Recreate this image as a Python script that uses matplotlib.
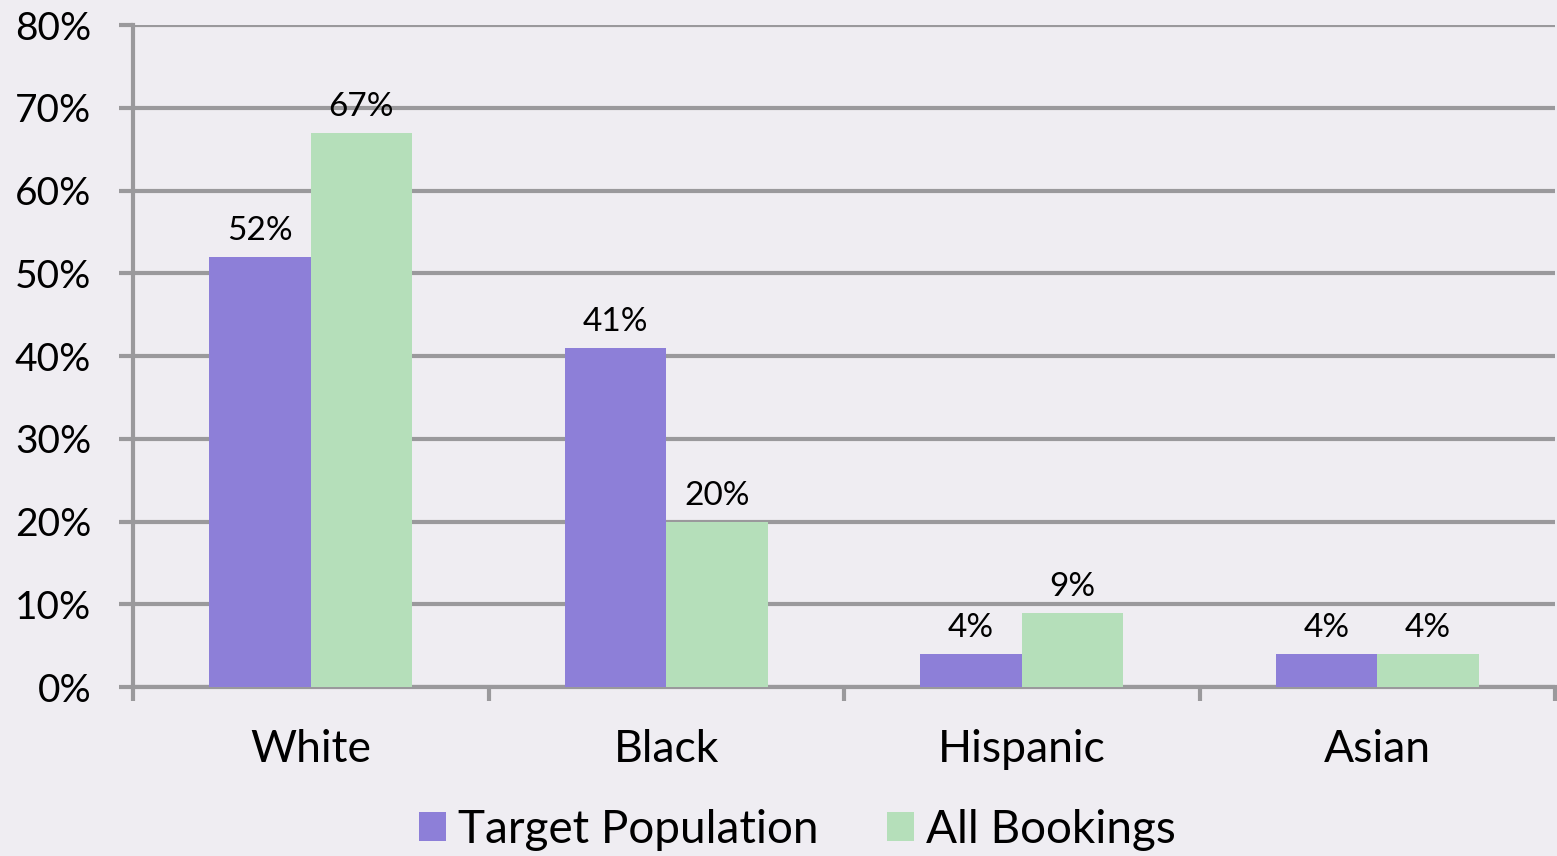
import matplotlib.pyplot as plt
import numpy as np

categories = ['White', 'Black', 'Hispanic', 'Asian']
target_pop = [52, 41, 4, 4]
all_bookings = [67, 20, 9, 4]
series_names = ['Target Population', 'All Bookings']
y_ticks = [0, 10, 20, 30, 40, 50, 60, 70, 80]

plt.rcParams['font.family'] = ['Lato', 'DejaVu Sans']

bg = '#efedf2'
purple = '#8d7fd8'
green = '#b5dfba'
grid_c = '#9a999c'

fig = plt.figure(figsize=(15.57, 8.56), dpi=100, facecolor=bg)
ax = fig.add_axes([133/1557, 169/856, 1422/1557, 662/856])
ax.set_facecolor(bg)

x = np.arange(len(categories))
w = 0.285
b1 = ax.bar(x - w/2, target_pop, w, color=purple, zorder=3, label=series_names[0])
b2 = ax.bar(x + w/2, all_bookings, w, color=green, zorder=3, label=series_names[1])

for bars, vals in [(b1, target_pop), (b2, all_bookings)]:
	for r, v in zip(bars, vals):
		ax.text(r.get_x() + r.get_width()/2, v + 1.3, str(v) + '%', ha='center', va='bottom', fontsize=24, color='black', zorder=4)

ax.set_xlim(-0.5, 3.5)
ax.set_ylim(0, 80)
ax.set_yticks(y_ticks)
ax.set_yticklabels([str(t) + '%' for t in y_ticks], fontsize=28)
ax.yaxis.grid(True, color=grid_c, linewidth=3, zorder=1)
ax.set_xticks(x)
ax.set_xticklabels(categories, fontsize=32)
ax.set_xticks(np.arange(-0.5, 4.0, 1.0), minor=True)
ax.tick_params(axis='x', which='major', length=0, pad=30)
ax.tick_params(axis='x', which='minor', length=10, width=3, color=grid_c)
ax.tick_params(axis='y', length=10, width=3, color=grid_c, pad=20)

for s in ['top', 'right']:
	ax.spines[s].set_visible(False)
ax.spines['left'].set_color(grid_c)
ax.spines['left'].set_linewidth(3)
ax.spines['bottom'].set_color(grid_c)
ax.spines['bottom'].set_linewidth(3)
ax.spines['left'].set_zorder(2)

leg = ax.legend(loc='center', bbox_to_anchor=(0.467, -0.216), ncol=2, frameon=False,
	fontsize=33, handlelength=0.6, handleheight=0.6, handletextpad=0.25, columnspacing=1.5)

fig.savefig('out.png', dpi=100, facecolor=bg)
